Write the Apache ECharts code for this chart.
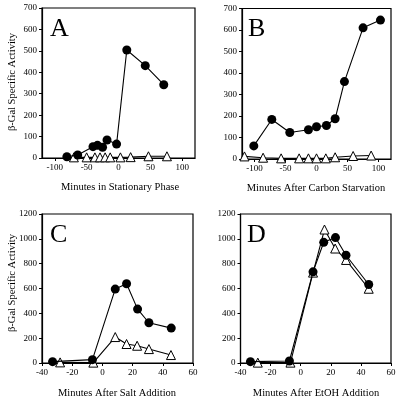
<!DOCTYPE html>
<html><head><meta charset="utf-8">
<script src="https://cdn.jsdelivr.net/npm/echarts@6/dist/echarts.min.js"></script>
<style>html,body{margin:0;padding:0;background:#fff}#c{width:400px;height:403px}</style>
</head><body><div id="c"></div>
<script>
// Panel A: Minutes in Stationary Phase
const aCircX = [-81, -64, -40, -33, -25, -18, -3, 13, 42, 71];
const aCircY = [6, 14, 53, 59, 50, 84, 65, 504, 431, 342];
const aTriX = [-70, -50, -37, -29, -21, -13, 3, 19, 47, 76];
const aTriY = [3, 3, 3, 3, 3, 3, 3, 4, 8, 8];
// Panel B: Minutes After Carbon Starvation
const bCircX = [-101, -72, -43, -13, 0, 16, 30, 45, 75, 103];
const bCircY = [61, 184, 123, 136, 150, 156, 187, 360, 610, 646];
const bTriX = [-116, -86, -57, -28, -13, 0, 15, 30, 59, 88];
const bTriY = [12, 6, 3, 3, 3, 3, 3, 8, 14, 16];
// Panel C: Minutes After Salt Addition
const cCircX = [-33, -6.6, 8.5, 16, 23.3, 30.8, 45.6];
const cCircY = [11, 27, 595, 638, 434, 324, 281];
const cTriX = [-28, -6, 8.5, 16, 23, 30.8, 45.4];
const cTriY = [5, 3, 209, 153, 139, 112, 64];
// Panel D: Minutes After EtOH Addition
const dCircX = [-33.4, -7.5, 8.2, 15.3, 23.1, 30.1, 45.2];
const dCircY = [11, 16, 734, 972, 1010, 868, 632];
const dTriX = [-28.5, -6.8, 8.2, 15.8, 22.9, 30.1, 45.2];
const dTriY = [3, 3, 728, 1075, 922, 830, 598];

const topXTicks = [-100, -50, 0, 50, 100];
const panelLetters = ['A', 'B', 'C', 'D'];
const xTitles = ['Minutes in Stationary Phase', 'Minutes After Carbon Starvation', 'Minutes After Salt Addition', 'Minutes After EtOH Addition'];
const yTitle = 'β-Gal Specific Activity';

const zip = (xs, ys) => xs.map((x, i) => [x, ys[i]]);
const FONT = 'Liberation Serif';

const grids = [
  {left: 42, top: 8, width: 153, height: 150},
  {left: 242, top: 8.5, width: 149, height: 150.5},
  {left: 42, top: 214, width: 151, height: 149},
  {left: 240.5, top: 214, width: 150.5, height: 149}
].map(g => Object.assign(g, {show: true, borderColor: '#000', borderWidth: 1.2, backgroundColor: 'transparent'}));

const axisCommon = {
  axisLine: {show: true, onZero: false, lineStyle: {color: '#000', width: 1.2}},
  axisTick: {show: true, inside: false, length: 3, lineStyle: {color: '#000', width: 1}},
  axisLabel: {color: '#000', fontFamily: FONT, fontSize: 9, margin: 5},
  splitLine: {show: false}
};
const plain = v => String(v);

const xAxes = [0, 1, 2, 3].map(i => {
  const top = i < 2;
  const ax = Object.assign({type: 'value', gridIndex: i}, JSON.parse(JSON.stringify(axisCommon)));
  ax.axisLabel.formatter = plain;
  if (top) {
    ax.min = -120; ax.max = 120;
    ax.axisTick.customValues = topXTicks;
    ax.axisLabel.customValues = topXTicks;
  } else {
    ax.min = -40; ax.max = 60; ax.interval = 20;
  }
  return ax;
});
const yAxes = [0, 1, 2, 3].map(i => {
  const top = i < 2;
  const ax = Object.assign({type: 'value', gridIndex: i}, JSON.parse(JSON.stringify(axisCommon)));
  ax.axisLabel.formatter = plain;
  ax.min = 0;
  ax.max = top ? 700 : 1200;
  ax.interval = top ? 100 : 200;
  return ax;
});

const circSets = [zip(aCircX, aCircY), zip(bCircX, bCircY), zip(cCircX, cCircY), zip(dCircX, dCircY)];
const triSets = [zip(aTriX, aTriY), zip(bTriX, bTriY), zip(cTriX, cTriY), zip(dTriX, dTriY)];
const series = [];
for (let i = 0; i < 4; i++) {
  series.push({
    type: 'line', xAxisIndex: i, yAxisIndex: i, data: triSets[i],
    symbol: 'triangle', symbolSize: 9, z: 2,
    lineStyle: {color: '#000', width: 1.1},
    itemStyle: {color: '#fff', borderColor: '#000', borderWidth: 1},
    animation: false
  });
  series.push({
    type: 'line', xAxisIndex: i, yAxisIndex: i, data: circSets[i],
    symbol: 'circle', symbolSize: 9, z: 3,
    lineStyle: {color: '#000', width: 1.1},
    itemStyle: {color: '#000', borderColor: '#000', borderWidth: 0},
    animation: false
  });
}

const letterPos = [[50, 16], [248, 16], [50, 222], [247, 222]];
const xTitlePos = [[120, 187], [316, 188], [117, 393], [316, 393]];
const graphics = [];
panelLetters.forEach((t, i) => {
  graphics.push({type: 'text', left: letterPos[i][0], top: letterPos[i][1],
    style: {text: t, font: '26px "' + FONT + '"', fill: '#000'}});
});
xTitles.forEach((t, i) => {
  graphics.push({type: 'text', x: xTitlePos[i][0], y: xTitlePos[i][1],
    style: {text: t, font: '10.5px "' + FONT + '"', fill: '#000', align: 'center', verticalAlign: 'middle'}});
});
[[12, 82], [12, 283]].forEach(p => {
  graphics.push({type: 'text', x: p[0], y: p[1], rotation: Math.PI / 2,
    style: {text: yTitle, font: '10.5px "' + FONT + '"', fill: '#000', align: 'center', verticalAlign: 'middle'}});
});

const chart = echarts.init(document.getElementById('c'), null, {renderer: 'canvas'});
chart.setOption({
  animation: false,
  grid: grids,
  xAxis: xAxes,
  yAxis: yAxes,
  series: series,
  graphic: graphics
});
</script></body></html>
